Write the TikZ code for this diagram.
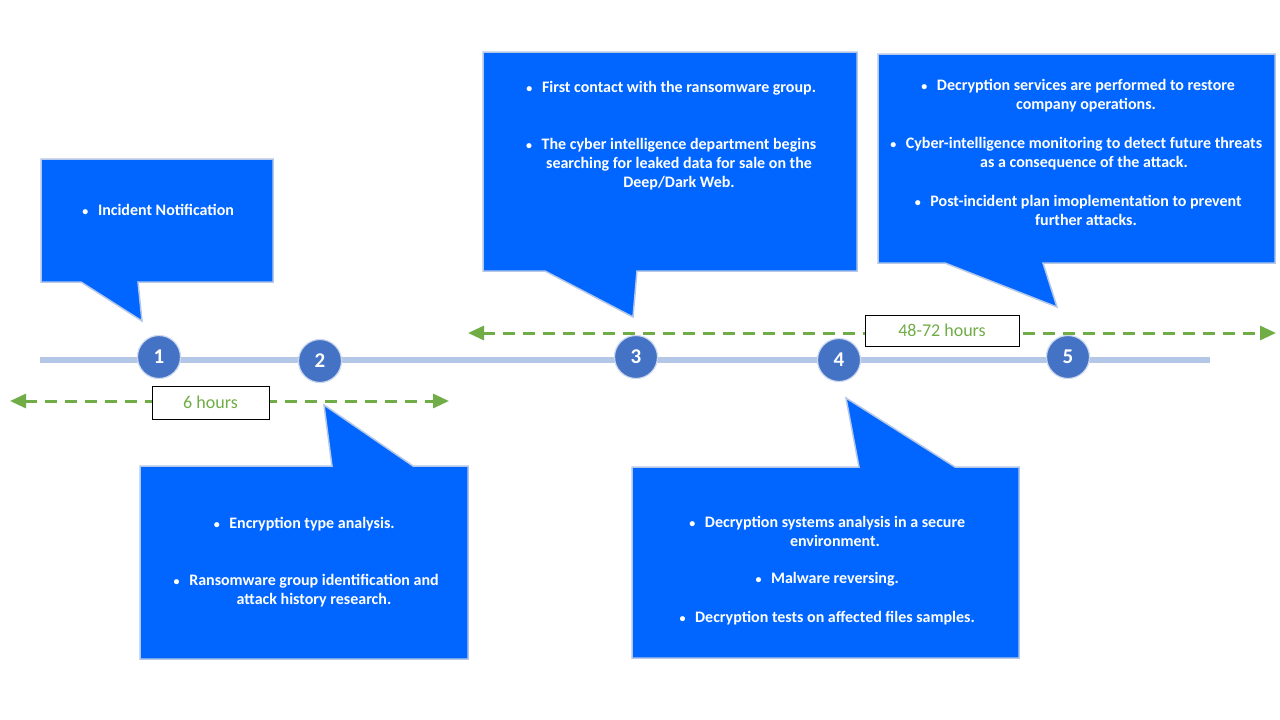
\documentclass[tikz,border=0pt]{standalone}
\usepackage{fontspec}
\setmainfont{Carlito}
\usetikzlibrary{arrows.meta}
\definecolor{callblue}{HTML}{0066FF}
\definecolor{edgeblue}{HTML}{B4C7E7}
\definecolor{dotblue}{HTML}{4472C4}
\definecolor{timegreen}{HTML}{70AD47}
\tikzset{
  callout/.style={fill=callblue, draw=edgeblue, line width=1.5pt, line join=miter},
  ctext/.style={text=white, font=\fontsize{16}{19}\selectfont\bfseries, align=center, inner sep=0pt},
  stepdot/.style={circle, fill=dotblue, draw=edgeblue!70!white, line width=1.2pt, minimum size=43pt, inner sep=0pt, text=white, font=\fontsize{21}{24}\selectfont\bfseries},
  spanarrow/.style={draw=timegreen, line width=3pt, dash pattern=on 12pt off 8pt, {Triangle[length=16pt,width=14pt,fill=timegreen]}-{Triangle[length=16pt,width=14pt,fill=timegreen]}},
  durbox/.style={draw=black, fill=white, line width=0.8pt, text=timegreen, font=\fontsize{18}{21}\selectfont, inner sep=0pt},
}
\newcommand{\bul}{\llap{{\fontsize{12}{12}\selectfont\textbullet}\hspace{0.6em}}}
\begin{document}
\begin{tikzpicture}[x=1pt,y=-1pt]
\useasboundingbox (0,0) rectangle (1280,720);
\fill[white] (0,0) rectangle (1280,720);
% timeline
\coordinate (tl0) at (40,360);
\coordinate (tl1) at (1210,360);
\draw[edgeblue, line width=6pt] (tl0) -- (tl1);
% step circles
\node[stepdot] (s1) at (159,357) {1};
\node[stepdot] (s2) at (320,361) {2};
\node[stepdot] (s3) at (636,357) {3};
\node[stepdot] (s4) at (839,360) {4};
\node[stepdot] (s5) at (1068,357) {5};
% span arrows
\coordinate (a1l) at (10,401);
\coordinate (a1r) at (449,401);
\draw[spanarrow] (a1l) -- (a1r);
\node[durbox, minimum width=117pt, minimum height=33pt] (d1) at (210.5,402.5) {6 hours};
\coordinate (a2l) at (468,333);
\coordinate (a2r) at (1276,333);
\draw[spanarrow] (a2l) -- (a2r);
\node[durbox, minimum width=154pt, minimum height=31pt] (d2) at (942,330.5) {48-72 hours};
% callout 1
\draw[callout] (41,159) -- (273,159) -- (273,282) -- (138,282) -- (142,321) -- (81,282) -- (41,282) -- cycle;
\node[ctext] (t1) at (166,210) {\bul Incident Notification};
% callout 3
\draw[callout] (483,52) -- (857,52) -- (857,271) -- (637,271) -- (633,317) -- (545,271) -- (483,271) -- cycle;
\node[ctext] (t3a) at (679,88) {\bul First contact with the ransomware group.};
\node[ctext] (t3b) at (679,164) {\bul The cyber intelligence department begins\\searching for leaked data for sale on the\\Deep/Dark Web.};
% callout 5
\draw[callout] (878,54) -- (1275,54) -- (1275,263) -- (1043,263) -- (1057,307) -- (945,263) -- (878,263) -- cycle;
\node[ctext] (t5a) at (1086,95.5) {\bul Decryption services are performed to restore\\company operations.};
\node[ctext] (t5b) at (1084,153.5) {\bul Cyber-intelligence monitoring to detect future threats\\as a consequence of the attack.};
\node[ctext] (t5c) at (1086,210.5) {\bul Post-incident plan imoplementation to prevent\\further attacks.};
% callout 2
\draw[callout] (140,466) -- (332,466) -- (324,405) -- (413,466) -- (468,466) -- (468,659) -- (140,659) -- cycle;
\node[ctext] (t2a) at (312,524) {\bul Encryption type analysis.};
\node[ctext] (t2b) at (314,590.5) {\bul Ransomware group identification and\\attack history research.};
% callout 4
\draw[callout] (632,467) -- (859,467) -- (846,398) -- (955,467) -- (1019,467) -- (1019,658) -- (632,658) -- cycle;
\node[ctext] (t4a) at (835,531.5) {\bul Decryption systems analysis in a secure\\environment.};
\node[ctext] (t4b) at (835,579) {\bul Malware reversing.};
\node[ctext] (t4c) at (835,618) {\bul Decryption tests on affected files samples.};
\end{tikzpicture}
\end{document}
